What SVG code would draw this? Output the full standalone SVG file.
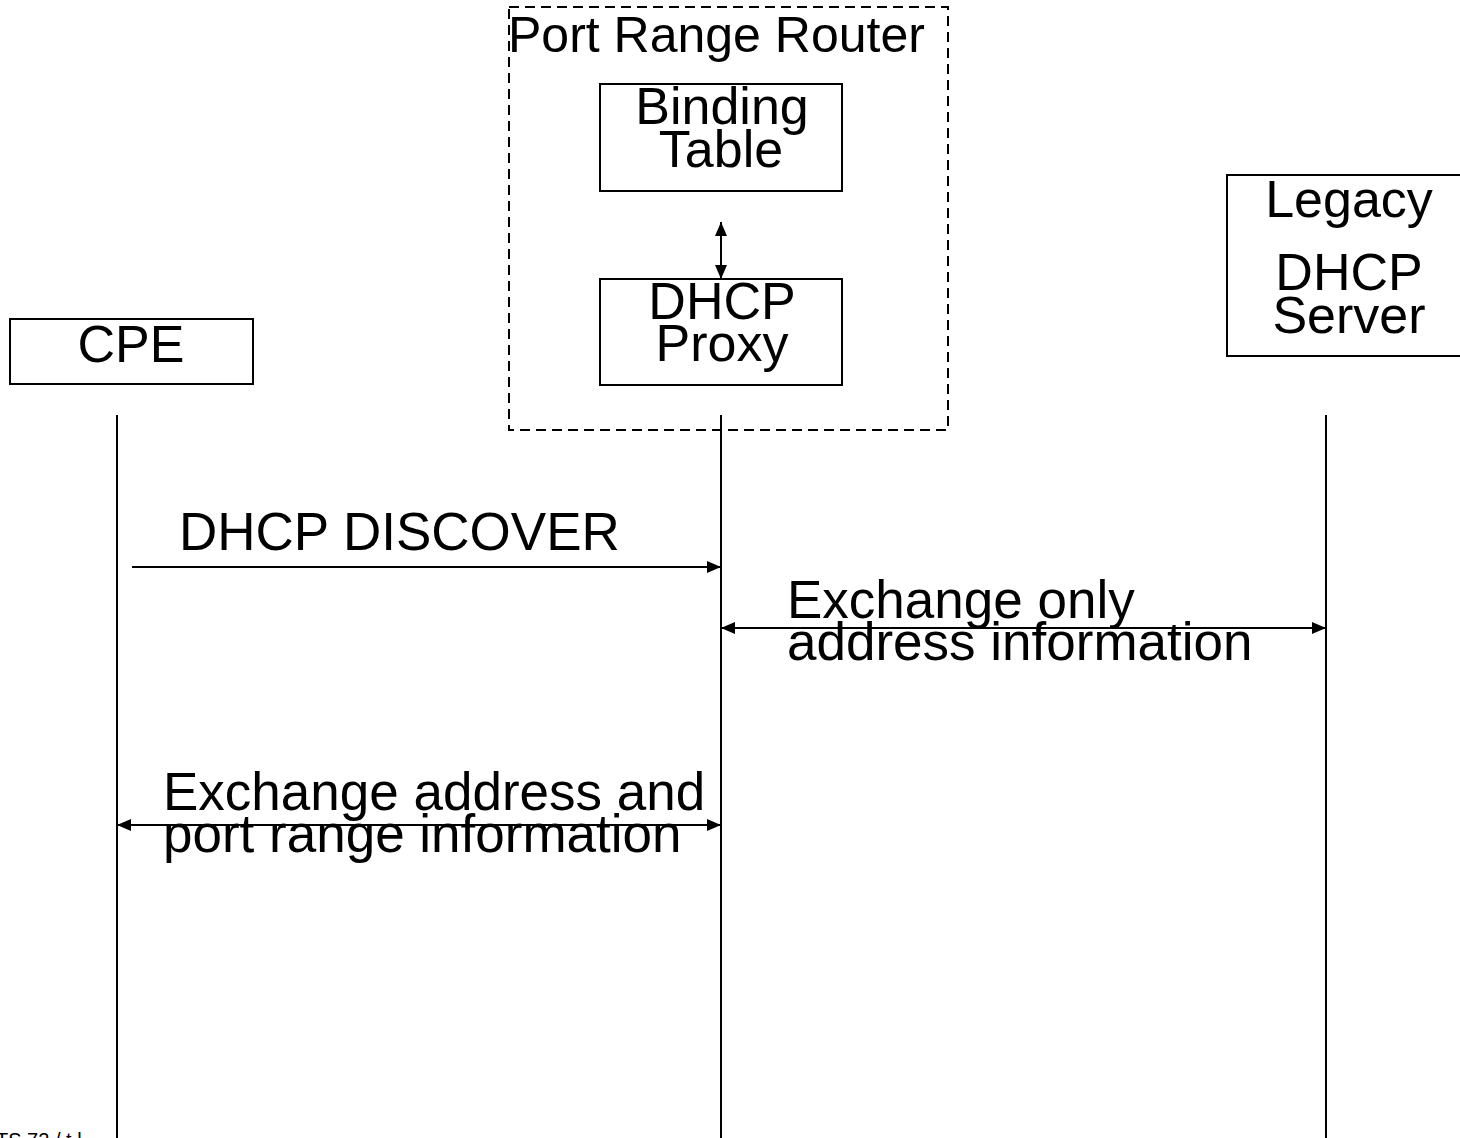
<svg xmlns="http://www.w3.org/2000/svg" width="1460" height="1138" viewBox="0 0 1460 1138">
<style>
text{font-family:"Liberation Sans",Arial,sans-serif;font-size:52px;fill:#000}
.mid{text-anchor:middle}
.box{fill:#fff;stroke:#000;stroke-width:2}
.ln{stroke:#000;stroke-width:2;fill:none}
.dash{fill:none;stroke:#000;stroke-width:2;stroke-dasharray:10,6}
.small{font-size:20px}
</style>
<defs>
<marker id="ah" viewBox="0 0 14 12" refX="14" refY="6" markerWidth="14" markerHeight="12" markerUnits="userSpaceOnUse" orient="auto-start-reverse">
<path d="M0,0 L14,6 L0,12 Z" fill="#000"/>
</marker>
</defs>
<rect width="1460" height="1138" fill="#fff"/>
<g id="router">
<rect class="dash" x="509" y="7" width="439" height="423"/>
<text x="508" y="52" style="font-size:50px">Port Range Router</text>
</g>
<g id="binding-table">
<rect class="box" x="600" y="84" width="242" height="107"/>
<text class="mid" x="722" y="124">Binding</text>
<text class="mid" x="721" y="167">Table</text>
</g>
<g id="dhcp-proxy">
<rect class="box" x="600" y="279" width="242" height="106"/>
<text class="mid" x="722" y="319">DHCP</text>
<text class="mid" x="722" y="361">Proxy</text>
</g>
<g id="cpe">
<rect class="box" x="10" y="319" width="243" height="65"/>
<text class="mid" x="131" y="362">CPE</text>
</g>
<g id="legacy-dhcp-server">
<rect class="box" x="1227" y="175" width="240" height="181"/>
<text class="mid" x="1349" y="217">Legacy</text>
<text class="mid" x="1349" y="290">DHCP</text>
<text class="mid" x="1349" y="333">Server</text>
</g>
<g id="connectors">
<line class="ln" x1="117" y1="415" x2="117" y2="1138"/>
<line class="ln" x1="721" y1="415" x2="721" y2="1138"/>
<line class="ln" x1="1326" y1="415" x2="1326" y2="1138"/>
<line class="ln" x1="721" y1="222" x2="721" y2="279" marker-start="url(#ah)" marker-end="url(#ah)"/>
<line class="ln" x1="132" y1="567" x2="721" y2="567" marker-end="url(#ah)"/>
<line class="ln" x1="721" y1="628" x2="1326" y2="628" marker-start="url(#ah)" marker-end="url(#ah)"/>
<line class="ln" x1="117" y1="825" x2="721" y2="825" marker-start="url(#ah)" marker-end="url(#ah)"/>
</g>
<g id="labels">
<text x="179" y="550" style="font-size:53px">DHCP DISCOVER</text>
<text x="787" y="618" style="font-size:53px">Exchange only</text>
<text x="787" y="660" style="font-size:53px">address information</text>
<text x="163" y="810" style="font-size:53px">Exchange address and</text>
<text x="163" y="852" style="font-size:53px">port range information</text>
<text class="small" x="-4" y="1147">TS 72 / t   l</text>
</g>
</svg>
